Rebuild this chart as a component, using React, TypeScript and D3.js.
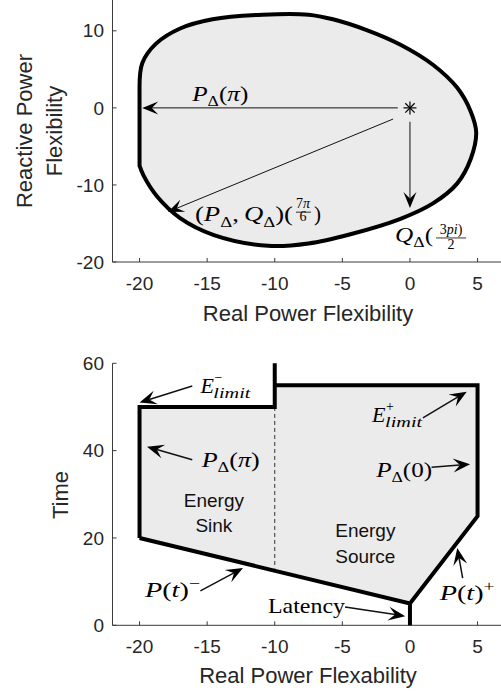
import React from 'react';
import * as d3 from 'd3';

// ---- top panel: P/Q flexibility region, read clockwise starting at the flat left edge
const regionP = [-20, -19.8, -18.8, -17, -14.6, -10.9, -7.5, -5.7, -3.2, -0.7, 1.7, 3.5, 4.5, 4.9, 4.5, 3.5, 1.7, -0.7, -4.4, -7.5, -10.5, -14.5, -17, -18.7, -19.7, -20];
const regionQ = [2.4, 5.8, 8.3, 10.3, 11.5, 12.1, 12.1, 11.5, 10.1, 8.2, 5.6, 2.6, -0.5, -3.2, -6.6, -9.8, -12.4, -14.4, -16.4, -17.6, -17.9, -16.5, -14.3, -11.5, -8.8, -7.5];
const operatingPoint = [0, 0];

// ---- bottom panel: P/time region
const fillP = [-20, -20, -10, -10, 5, 5, 0];
const fillT = [20, 50, 50, 55, 55, 25, 5];
const sinkEdgeP = [-20, -20, -10, -10];
const sinkEdgeT = [20, 50, 50, 60];
const sourceEdgeP = [-10, 5, 5, 0, -20];
const sourceEdgeT = [55, 55, 25, 5, 20];
const latencyP = [0, 0];
const latencyT = [5, 0];
const dividerP = [-10, -10];
const dividerT = [50, 13];

// ticks
const xTicks = [-20, -15, -10, -5, 0, 5];
const qTicks = [-20, -10, 0, 10];
const tTicks = [0, 20, 40, 60];

// annotation arrows [fromP, fromY, toP, toY]
const topArrows = [
  [-0.9, 0, -19.8, 0],
  [-1.25, -1.45, -17.9, -13.5],
  [0, -1.8, 0, -13],
];
const bottomArrows = [
  [-16.1, 54.8, -20, 51],
  [-16.1, 37.9, -19.45, 40.9],
  [0.96, 47.5, 4.2, 53.5],
  [1.6, 36.2, 4.45, 36.9],
  [3.9, 10.8, 3.5, 17.7],
  [-15.5, 7.9, -12.35, 13.1],
  [-4.8, 4.2, -0.35, 2.1],
];

const W = 501;
const H = 694;
const sans = '"Liberation Sans", Arial, sans-serif';
const serif = '"Liberation Serif", serif';
const axisColor = '#3a3a3a';

const x = d3.scaleLinear().domain([-22, 7]).range([112.5, 504.6]);
const yTop = d3.scaleLinear().domain([-20, 14]).range([262, 0]);
const yBot = d3.scaleLinear().domain([0, 60]).range([625.3, 363.3]);

type Part = { s: string; it?: boolean; sub?: boolean; sup?: boolean; dx?: number };

function MathText({ x, y, parts, size = 21, len }: { x: number; y: number; parts: Part[]; size?: number; len?: number }) {
  let shift = 0;
  const extra: any = len ? { textLength: len, lengthAdjust: 'spacingAndGlyphs' } : {};
  return (
    <text x={x} y={y} fontFamily={serif} fontSize={size} fill="#000" {...extra}>
      {parts.map((p, i) => {
        const target = p.sub ? size * 0.26 : p.sup ? -size * 0.42 : 0;
        const dy = target - shift;
        shift = target;
        return (
          <tspan key={i} dy={dy} dx={p.dx || 0} fontStyle={p.it ? 'italic' : 'normal'} fontSize={p.sub || p.sup ? size * 0.7 : size}>
            {p.s}
          </tspan>
        );
      })}
    </text>
  );
}

// E with stacked super/subscript
function ELimit({ x, y, sign }: { x: number; y: number; sign: string }) {
  return (
    <g fontFamily={serif} fill="#000">
      <text x={x} y={y} fontSize={22} fontStyle="italic">E</text>
      <text x={x + 14} y={y - 11} fontSize={14}>{sign}</text>
      <text x={x + 13} y={y + 5} fontSize={14} fontStyle="italic" textLength={37} lengthAdjust="spacingAndGlyphs">limit</text>
    </g>
  );
}

function Arrow({ x1, y1, x2, y2, w = 1, len = 16, half = 6.5 }: any) {
  const a = Math.atan2(y2 - y1, x2 - x1);
  const ux = Math.cos(a), uy = Math.sin(a);
  const nx = -uy, ny = ux;
  const notch = len * 0.6;
  const bx = x2 - len * ux, by = y2 - len * uy;
  const head = [
    [x2, y2],
    [bx + half * nx, by + half * ny],
    [x2 - notch * ux, y2 - notch * uy],
    [bx - half * nx, by - half * ny],
  ];
  return (
    <g>
      <line x1={x1} y1={y1} x2={x2 - notch * ux} y2={y2 - notch * uy} stroke="#111" strokeWidth={w} />
      <path d={'M' + head.map(p => p.join(',')).join('L') + 'Z'} fill="#000" />
    </g>
  );
}

function Axes({ y, ticksY, yTop, yBottom }: { y: d3.ScaleLinear<number, number>; ticksY: number[]; yTop: number; yBottom: number }) {
  const x0 = x.range()[0];
  return (
    <g>
      <line x1={x0} y1={yBottom} x2={W} y2={yBottom} stroke={axisColor} strokeWidth={1} />
      <line x1={x0} y1={yTop} x2={x0} y2={yBottom} stroke={axisColor} strokeWidth={1} />
      {xTicks.map(t => (
        <g key={'x' + t}>
          <line x1={x(t)} x2={x(t)} y1={yBottom} y2={yBottom - 4} stroke={axisColor} />
          <text x={x(t)} y={yBottom + 28} textAnchor="middle" fontFamily={sans} fontSize={19} fill="#262626">{t}</text>
        </g>
      ))}
      {ticksY.map(t => (
        <g key={'y' + t}>
          <line x1={x0} x2={x0 + 4} y1={y(t)} y2={y(t)} stroke={axisColor} />
          <text x={104} y={y(t)} dy="0.35em" textAnchor="end" fontFamily={sans} fontSize={19} fill="#262626">{t}</text>
        </g>
      ))}
    </g>
  );
}

export default function App() {
  const topPts = regionP.map((p, i) => [x(p), yTop(regionQ[i])] as [number, number]);
  const topPath = d3.line().curve(d3.curveCatmullRom)(topPts) + 'Z';

  const poly = (ps: number[], ts: number[]) =>
    d3.line()(ps.map((p, i) => [x(p), yBot(ts[i])] as [number, number])) as string;

  const sx = x(operatingPoint[0]);
  const sy = yTop(operatingPoint[1]);
  const r = 6.5;
  const l2x = x(-15.9), l2y = yTop(-14.7);
  const l3x = x(-1.1), l3y = yTop(-17.4);

  return (
    <svg width={W} height={H} style={{ position: 'absolute', left: 0, top: 0, background: '#fff' }}>
      {/* ---------- top panel ---------- */}
      <path d={topPath} fill="#ebebeb" stroke="#000" strokeWidth={4} strokeLinejoin="round" />
      <Axes y={yTop} ticksY={qTicks} yTop={0} yBottom={yTop(-20)} />
      <g stroke="#000" strokeWidth={1.2}>
        <line x1={sx - r} x2={sx + r} y1={sy} y2={sy} />
        <line x1={sx} x2={sx} y1={sy - r} y2={sy + r} />
        <line x1={sx - r * 0.72} x2={sx + r * 0.72} y1={sy - r * 0.72} y2={sy + r * 0.72} />
        <line x1={sx - r * 0.72} x2={sx + r * 0.72} y1={sy + r * 0.72} y2={sy - r * 0.72} />
      </g>
      {topArrows.map((a, i) => (
        <Arrow key={i} x1={x(a[0])} y1={yTop(a[1])} x2={x(a[2])} y2={yTop(a[3])} w={1} />
      ))}
      <MathText x={x(-16.1)} y={yTop(0.9)} len={56} parts={[{ s: 'P', it: true }, { s: 'Δ', sub: true }, { s: '(' }, { s: 'π', it: true }, { s: ')' }]} />
      <g>
        <MathText x={l2x} y={l2y} len={98} parts={[{ s: '(' }, { s: 'P', it: true }, { s: 'Δ', sub: true }, { s: ',' }, { s: 'Q', it: true, dx: 4 }, { s: 'Δ', sub: true }, { s: ')(' }]} />
        <text x={l2x + 108} y={l2y - 13.5} textAnchor="middle" fontFamily={serif} fontSize={14}>
          <tspan>7</tspan><tspan fontStyle="italic">π</tspan>
        </text>
        <line x1={l2x + 101} x2={l2x + 116} y1={l2y - 9} y2={l2y - 9} stroke="#000" strokeWidth={0.8} />
        <text x={l2x + 108} y={l2y - 0.5} textAnchor="middle" fontFamily={serif} fontSize={14}>6</text>
        <text x={l2x + 119} y={l2y} fontFamily={serif} fontSize={21}>)</text>
      </g>
      <g>
        <MathText x={l3x} y={l3y} len={38} parts={[{ s: 'Q', it: true }, { s: 'Δ', sub: true }, { s: '(' }]} />
        <text x={l3x + 56} y={l3y - 8} textAnchor="middle" fontFamily={serif} fontSize={14}>
          <tspan>3</tspan><tspan fontStyle="italic">pi</tspan><tspan>)</tspan>
        </text>
        <line x1={l3x + 41} x2={l3x + 71} y1={l3y - 4} y2={l3y - 4} stroke="#000" strokeWidth={0.8} />
        <text x={l3x + 56} y={l3y + 7} textAnchor="middle" fontFamily={serif} fontSize={14}>2</text>
      </g>
      <text transform={`translate(32,131) rotate(-90)`} textAnchor="middle" fontFamily={sans} fontSize={22} fill="#262626">Reactive Power</text>
      <text transform={`translate(62,131) rotate(-90)`} textAnchor="middle" fontFamily={sans} fontSize={22} fill="#262626">Flexibility</text>
      <text x={308} y={321} textAnchor="middle" fontFamily={sans} fontSize={22} fill="#262626">Real Power Flexibility</text>

      {/* ---------- bottom panel ---------- */}
      <path d={poly(fillP, fillT) + 'Z'} fill="#ebebeb" stroke="none" />
      <path d={poly(dividerP, dividerT)} fill="none" stroke="#333" strokeWidth={1} strokeDasharray="4,3" />
      <Axes y={yBot} ticksY={tTicks} yTop={yBot(60)} yBottom={yBot(0)} />
      <g fill="none" stroke="#000" strokeWidth={4} strokeLinejoin="miter">
        <path d={poly(sinkEdgeP, sinkEdgeT)} />
        <path d={poly(sourceEdgeP, sourceEdgeT)} />
        <path d={poly(latencyP, latencyT)} />
      </g>
      {bottomArrows.map((a, i) => (
        <Arrow key={i} x1={x(a[0])} y1={yBot(a[1])} x2={x(a[2])} y2={yBot(a[3])} w={1.5} len={17} half={7} />
      ))}
      <ELimit x={x(-15.5)} y={yBot(53.2)} sign="−" />
      <MathText x={x(-15.4)} y={yBot(36.3)} len={58} parts={[{ s: 'P', it: true }, { s: 'Δ', sub: true }, { s: '(' }, { s: 'π', it: true }, { s: ')' }]} />
      <ELimit x={x(-2.8)} y={yBot(46.6)} sign="+" />
      <MathText x={x(-2.5)} y={yBot(34)} len={56} parts={[{ s: 'P', it: true }, { s: 'Δ', sub: true }, { s: '(0)' }]} />
      <MathText x={x(2.2)} y={yBot(5.8)} len={55} parts={[{ s: 'P', it: true }, { s: '(' }, { s: 't', it: true }, { s: ')' }, { s: '+', sup: true }]} />
      <MathText x={x(-19.6)} y={yBot(6.5)} len={55} parts={[{ s: 'P', it: true }, { s: '(' }, { s: 't', it: true }, { s: ')' }, { s: '−', sup: true }]} />
      <MathText x={x(-10.5)} y={yBot(2.8)} len={77} parts={[{ s: 'Latency' }]} />
      <g fontFamily={sans} fontSize={19} fill="#111" textAnchor="middle">
        <text x={x(-14.5)} y={yBot(28.7)} dy="0.35em">Energy</text>
        <text x={x(-14.5)} y={yBot(23)} dy="0.35em">Sink</text>
        <text x={x(-3.3)} y={yBot(21.8)} dy="0.35em">Energy</text>
        <text x={x(-3.3)} y={yBot(15.9)} dy="0.35em">Source</text>
      </g>
      <text transform={`translate(68,495) rotate(-90)`} textAnchor="middle" fontFamily={sans} fontSize={22} fill="#262626">Time</text>
      <text x={308} y={683} textAnchor="middle" fontFamily={sans} fontSize={22} fill="#262626">Real Power Flexability</text>
    </svg>
  );
}
